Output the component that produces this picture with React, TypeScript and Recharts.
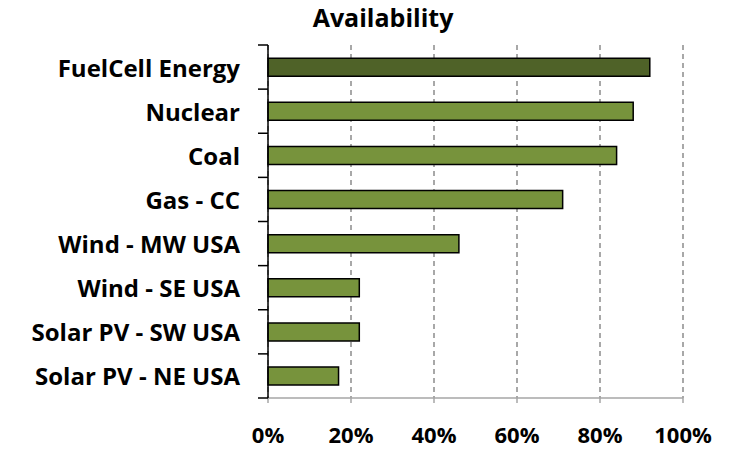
import { BarChart, Bar, XAxis, YAxis, CartesianGrid, Cell } from 'recharts'

const categories = [
  'FuelCell Energy',
  'Nuclear',
  'Coal',
  'Gas - CC',
  'Wind - MW USA',
  'Wind - SE USA',
  'Solar PV - SW USA',
  'Solar PV - NE USA',
]
const availability = [0.92, 0.88, 0.84, 0.71, 0.46, 0.22, 0.22, 0.17]
const barColors = ['#4F6228', '#77933C', '#77933C', '#77933C', '#77933C', '#77933C', '#77933C', '#77933C']
const xTicks = [0, 0.2, 0.4, 0.6, 0.8, 1]

const FONT = '"Open Sans", Lato, sans-serif'

// category ticks sit between the bars, so draw them ourselves
const CategoryTick = (props: any) => {
  const { x, y, payload, index } = props
  const half = payload.offset ?? 22
  return (
    <g>
      <line x1={x - 2} x2={x + 8} y1={y - half} y2={y - half} stroke="#000" strokeWidth={1.5} />
      {index === categories.length - 1 && (
        <line x1={x - 2} x2={x + 8} y1={y + half} y2={y + half} stroke="#000" strokeWidth={1.5} />
      )}
      <text x={x - 20} y={y} textAnchor="end" dominantBaseline="central" fontFamily={FONT} fontWeight={700} fontSize={24} fill="#000">
        {payload.value}
      </text>
    </g>
  )
}

export default function App() {
  const data = categories.map((name, i) => ({ name, value: availability[i] }))

  return (
    <div style={{ position: 'absolute', left: 0, top: 0, width: 736, height: 450, background: '#fff', overflow: 'hidden' }}>
      <div
        style={{
          position: 'absolute',
          top: 0,
          left: 30,
          width: 706,
          textAlign: 'center',
          fontFamily: FONT,
          fontWeight: 700,
          fontSize: 25,
          lineHeight: 'normal',
        }}
      >
        Availability
      </div>
      <BarChart
        width={736}
        height={450}
        data={data}
        layout="vertical"
        margin={{ top: 45, right: 53, bottom: 0, left: 0 }}
        barCategoryGap="30%"
      >
        <CartesianGrid horizontal={false} stroke="#8C8C8C" strokeDasharray="5 4" strokeWidth={1.5} />
        <XAxis
          type="number"
          domain={[0, 1]}
          ticks={xTicks}
          tickFormatter={(v: number) => `${Math.round(v * 100)}%`}
          axisLine={{ stroke: '#A6A6A6', strokeWidth: 1.5 }}
          tickLine={{ stroke: '#A6A6A6', strokeWidth: 1.5 }}
          tickSize={5}
          tickMargin={24}
          height={52}
          tick={{ fontFamily: FONT, fontWeight: 700, fontSize: 22, fill: '#000' }}
        />
        <YAxis
          type="category"
          dataKey="name"
          width={268}
          axisLine={{ stroke: '#000', strokeWidth: 1.5 }}
          tickLine={false}
          tick={<CategoryTick />}
          interval={0}
        />
        <Bar dataKey="value" stroke="#000" strokeWidth={1.5} isAnimationActive={false}>
          {data.map((d, i) => (
            <Cell key={d.name} fill={barColors[i]} />
          ))}
        </Bar>
      </BarChart>
    </div>
  )
}
